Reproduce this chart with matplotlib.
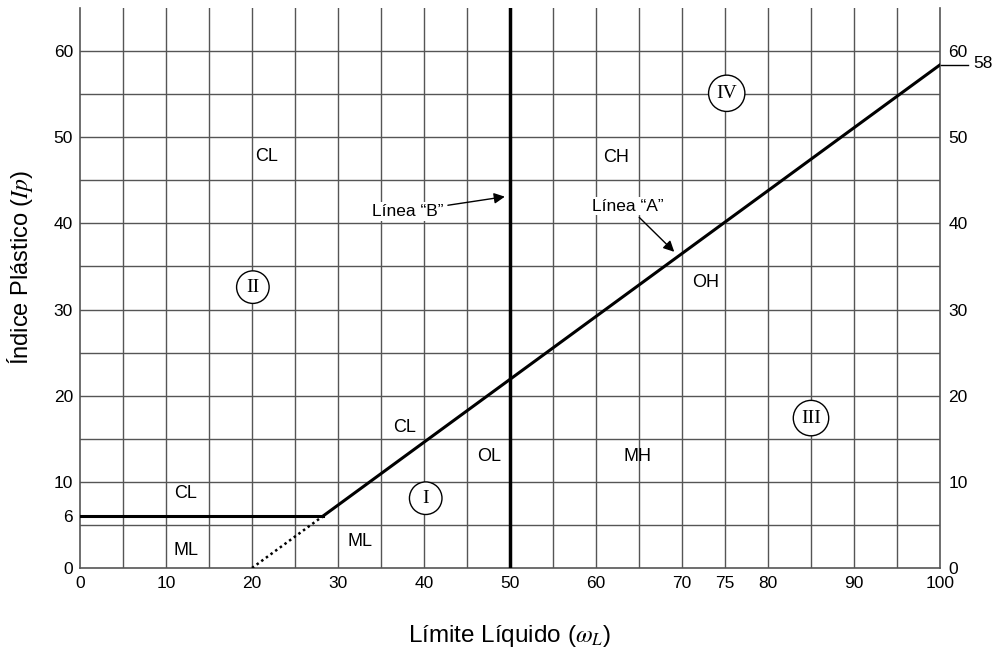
import matplotlib
matplotlib.use("Agg")
import matplotlib.pyplot as plt
import numpy as np

plt.rcParams['font.family'] = ['Liberation Sans', 'DejaVu Sans']
plt.rcParams['mathtext.fontset'] = 'stix'

# ---- data ----
x_ticks = [0, 10, 20, 30, 40, 50, 60, 70, 75, 80, 90, 100]
y_ticks_left = [0, 6, 10, 20, 30, 40, 50, 60]
y_ticks_right = [0, 10, 20, 30, 40, 50, 60]
grid_x = list(range(5, 100, 5))
grid_y = list(range(5, 65, 5))

# Line "A": Ip = 0.73 (wL - 20)
a_slope = 0.73
a_origin = 20
ip_min = 6            # horizontal limit line
line_b_x = 50         # Line "B"
a_end_value = 58      # label at right end

zone_labels = ["CL", "CH", "OH", "MH", "OL", "CL", "CL", "ML", "ML"]
zone_x = [21.7, 62.3, 72.7, 64.8, 47.6, 37.7, 12.3, 12.3, 32.6]
zone_y = [47.8, 47.7, 33.1, 12.9, 12.9, 16.3, 8.7, 2.0, 3.1]

roman_labels = ["I", "II", "III", "IV"]
roman_x = [40.2, 20.1, 85.0, 75.2]
roman_y = [8.1, 32.6, 17.4, 55.1]

# ---- figure ----
fig = plt.figure(figsize=(9.94, 6.56), dpi=100)
ax = fig.add_axes([80/994, 88/656, 860/994, 560/656])
ax.set_xlim(0, 100)
ax.set_ylim(0, 65)

gcol = '#555555'
for gx in grid_x:
    ax.axvline(gx, color=gcol, lw=1.0, zorder=1)
for gy in grid_y:
    ax.axhline(gy, color=gcol, lw=1.0, zorder=1)

# horizontal limit and A-line
x6 = a_origin + ip_min / a_slope
ax.plot([0, x6], [ip_min, ip_min], color='black', lw=2.2, zorder=3)
ax.plot([a_origin, x6], [0, ip_min], color='black', lw=1.8, ls=(0, (1, 1.3)), zorder=3)
xa = np.array([x6, 100])
ax.plot(xa, a_slope * (xa - a_origin), color='black', lw=2.2, zorder=3)
ax.plot([line_b_x, line_b_x], [0, 65], color='black', lw=2.5, zorder=3)

# right end marker 58
a_end = a_slope * (100 - a_origin)
ax.plot([100, 103.3], [a_end, a_end], color='black', lw=1.0, clip_on=False)
ax.text(103.9, a_end + 0.2, str(a_end_value), fontsize=12.5, va='center', ha='left')

# spines
ax.spines['top'].set_visible(False)
for s in ['left', 'right', 'bottom']:
    ax.spines[s].set_color(gcol)
    ax.spines[s].set_linewidth(1.2)

tick_fs = 12.5
ax.set_xticks(x_ticks)
ax.set_xticklabels([str(v) for v in x_ticks], fontsize=tick_fs)
ax.set_yticks(y_ticks_left)
ax.set_yticklabels([str(v) for v in y_ticks_left], fontsize=tick_fs)
ax.tick_params(axis='x', length=0, pad=6)
ax.tick_params(axis='y', length=0, pad=5)

ax2 = ax.twinx()
ax2.set_ylim(0, 65)
ax2.set_yticks(y_ticks_right)
ax2.set_yticklabels([str(v) for v in y_ticks_right], fontsize=tick_fs)
ax2.tick_params(axis='y', length=0, pad=6)
for s in ['top', 'left', 'right', 'bottom']:
    ax2.spines[s].set_visible(False)

ax.set_xlabel(r'Límite Líquido ($\omega_L$)', fontsize=17.5)
ax.xaxis.set_label_coords(0.499, -0.098)
ax.set_ylabel(r'Índice Plástico ($Ip$)', fontsize=17)
ax.yaxis.set_label_coords(-0.052, 0.5375)

for t, x, y in zip(zone_labels, zone_x, zone_y):
    ax.text(x, y, t, fontsize=13, ha='center', va='center', zorder=4)

for t, x, y in zip(roman_labels, roman_x, roman_y):
    ax.text(x, y, t, fontsize=14, ha='center', va='center', family='Liberation Serif',
            zorder=5,
            bbox=dict(boxstyle='circle,pad=0.4', fc='white', ec='black', lw=1.0))

ax.annotate('Línea “B”', xy=(49.4, 43.1), xytext=(38.1, 41.4), fontsize=12.5,
            ha='center', va='center', zorder=6,
            bbox=dict(boxstyle='square,pad=0.1', fc='white', ec='none'),
            arrowprops=dict(arrowstyle='-|>', color='black', lw=1.0, mutation_scale=16,
                            shrinkA=2, shrinkB=0))
ax.annotate('Línea “A”', xy=(69.1, 36.7), xytext=(63.7, 42.0), fontsize=12.5,
            ha='center', va='center', zorder=6,
            bbox=dict(boxstyle='square,pad=0.1', fc='white', ec='none'),
            arrowprops=dict(arrowstyle='-|>', color='black', lw=1.0, mutation_scale=16,
                            shrinkA=2, shrinkB=0))

fig.savefig('out.png', dpi=100)
